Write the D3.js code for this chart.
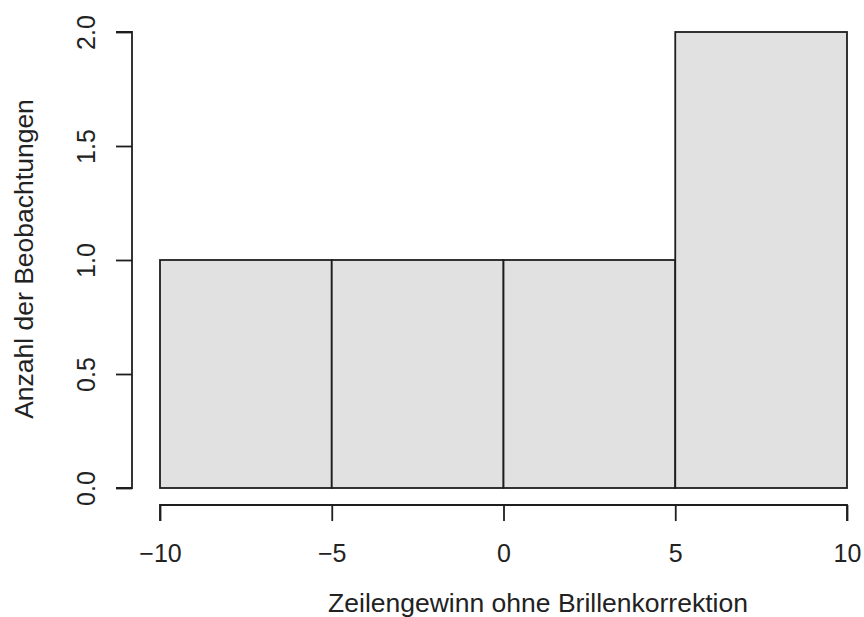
<!DOCTYPE html>
<html><head><meta charset="utf-8">
<script src="https://cdn.jsdelivr.net/npm/d3@7"></script>
<style>body{margin:0;background:#fff}svg{display:block}text{font-family:"Liberation Sans",Arial,sans-serif;fill:#222}</style>
</head><body><svg id="c" width="864" height="617"></svg>
<script>
const binStarts = [-10, -5, 0, 5];
const binEnds = [-5, 0, 5, 10];
const counts = [1, 1, 1, 2];
const xTicks = [-10, -5, 0, 5, 10];
const yTicks = [0, 0.5, 1, 1.5, 2];
const xTitle = "Zeilengewinn ohne Brillenkorrektion";
const yTitle = "Anzahl der Beobachtungen";

const svg = d3.select("#c");
const x = d3.scaleLinear().domain([-10, 10]).range([160, 847]);
const y = d3.scaleLinear().domain([0, 2]).range([488, 32]);

svg.append("g").selectAll("rect").data(counts).join("rect")
  .attr("x", (d,i) => x(binStarts[i]))
  .attr("width", (d,i) => x(binEnds[i]) - x(binStarts[i]))
  .attr("y", d => y(d))
  .attr("height", d => y(0) - y(d))
  .attr("fill", "#e1e1e1").attr("stroke", "#1e1e1e").attr("stroke-width", 1.8);

const xa = svg.append("g").attr("transform", "translate(0,505)")
  .call(d3.axisBottom(x).tickValues(xTicks).tickSize(16).tickFormat(d => d < 0 ? "\u2212" + Math.abs(d) : d));
xa.select(".domain").attr("d", `M${x(-10)},16V0H${x(10)}V16`);
xa.selectAll("line,path").attr("stroke", "#1e1e1e").attr("stroke-width", 1.8);
xa.selectAll("text").attr("font-size", 25).style("font-family", "Liberation Sans, Arial, sans-serif").attr("fill", "#222")
  .attr("y", 57).attr("dy", null);

const ya = svg.append("g").attr("transform", "translate(132,0)")
  .call(d3.axisLeft(y).tickValues(yTicks).tickSize(16).tickFormat(d3.format(".1f")));
ya.select(".domain").attr("d", `M-16,${y(0)}H0V${y(2)}H-16`);
ya.selectAll("line,path").attr("stroke", "#1e1e1e").attr("stroke-width", 1.8);
ya.selectAll("text").attr("font-size", 25).style("font-family", "Liberation Sans, Arial, sans-serif").attr("fill", "#222")
  .attr("x", null).attr("dy", null)
  .attr("text-anchor", "middle")
  .attr("transform", d => `translate(-37,0) rotate(-90)`)
  .attr("y", 0);

svg.append("text").attr("x", 538).attr("y", 612).attr("text-anchor", "middle")
  .attr("font-size", 26.5).text(xTitle);
svg.append("text").attr("transform", "translate(33,259) rotate(-90)").attr("text-anchor", "middle")
  .attr("font-size", 26.5).text(yTitle);
</script></body></html>
